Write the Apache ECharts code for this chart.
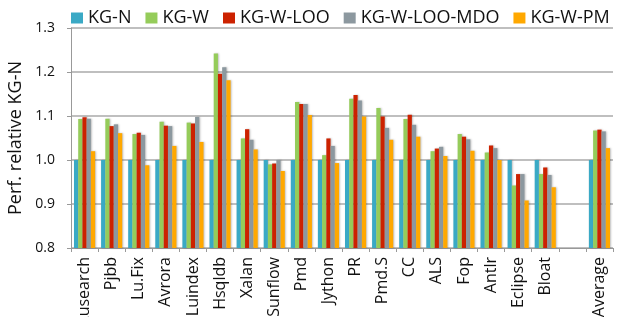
<!DOCTYPE html>
<html><head><meta charset="utf-8">
<script src="https://cdn.jsdelivr.net/npm/echarts@6/dist/echarts.min.js"></script>
<style>html,body{margin:0;padding:0;background:#fff}#c{width:618px;height:317px}</style>
</head><body><div id="c"></div>
<script>
const categories = ["Lusearch","Pjbb","Lu.Fix","Avrora","Luindex","Hsqldb","Xalan","Sunflow","Pmd","Jython","PR","Pmd.S","CC","ALS","Fop","Antlr","Eclipse","Bloat","","Average"];
const kgN      = [1,1,1,1,1,1,1,1,1,1,1,1,1,1,1,1,1,1,null,1];
const kgW      = [1.093,1.094,1.059,1.087,1.085,1.242,1.049,0.990,1.132,1.011,1.139,1.118,1.093,1.020,1.059,1.017,0.942,0.968,null,1.067];
const kgWLOO   = [1.097,1.077,1.062,1.078,1.083,1.196,1.070,0.992,1.127,1.049,1.148,1.099,1.103,1.026,1.053,1.033,0.968,0.983,null,1.069];
const kgWLOOMDO= [1.094,1.081,1.057,1.077,1.098,1.211,1.046,1.000,1.127,1.032,1.135,1.073,1.080,1.030,1.047,1.027,0.968,0.966,null,1.065];
const kgWPM    = [1.020,1.061,0.988,1.032,1.041,1.181,1.024,0.975,1.102,0.993,1.099,1.046,1.053,1.009,1.021,1.000,0.908,0.938,null,1.027];
const seriesNames = ["KG-N","KG-W","KG-W-LOO","KG-W-LOO-MDO","KG-W-PM"];
const colors = ["#3AA9C5","#95CC5A","#CC2200","#8C989F","#FFA800"];
const yTicks = [0.8,0.9,1.0,1.1,1.2,1.3];

const data = [kgN,kgW,kgWLOO,kgWLOOMDO,kgWPM];
const chart = echarts.init(document.getElementById('c'));
chart.setOption({
  animation:false,
  color: colors,
  textStyle:{fontFamily:'Open Sans'},
  legend:{
    top:4, left:66, itemWidth:12, itemHeight:11, itemGap:14,
    icon:'rect',
    textStyle:{fontSize:18, color:'#111', fontFamily:'Open Sans'},
    data: seriesNames
  },
  grid:{left:71, right:5, top:28, bottom:69, containLabel:false, outerBoundsMode:'none'},
  xAxis:{
    type:'category', data: categories,
    axisLine:{lineStyle:{color:'#999', width:1}},
    axisTick:{show:true, length:4, lineStyle:{color:'#999'}},
    axisLabel:{rotate:90, fontSize:16, color:'#111', margin:9, interval:0, fontFamily:'Open Sans'}
  },
  yAxis:{
    type:'value', min:yTicks[0], max:yTicks[yTicks.length-1], interval:0.1,
    name:'Perf. relative KG-N', nameLocation:'middle', nameGap:40,
    nameTextStyle:{fontSize:18, color:'#111', fontFamily:'Open Sans'},
    axisLine:{show:true, lineStyle:{color:'#999'}},
    axisTick:{show:true, length:4, inside:false, lineStyle:{color:'#999'}},
    axisLabel:{fontSize:14, color:'#111', margin:16, formatter:v=>v.toFixed(1)},
    splitLine:{lineStyle:{color:'#aaa', width:1.5}}
  },
  series: data.map((d,i)=>({
    name: seriesNames[i], type:'bar', data:d, barGap:'0%', barCategoryGap:'22%',
    itemStyle:{color:colors[i], shadowColor:'rgba(0,0,0,0.25)', shadowBlur:2, shadowOffsetX:1, shadowOffsetY:0}
  }))
});
</script></body></html>
